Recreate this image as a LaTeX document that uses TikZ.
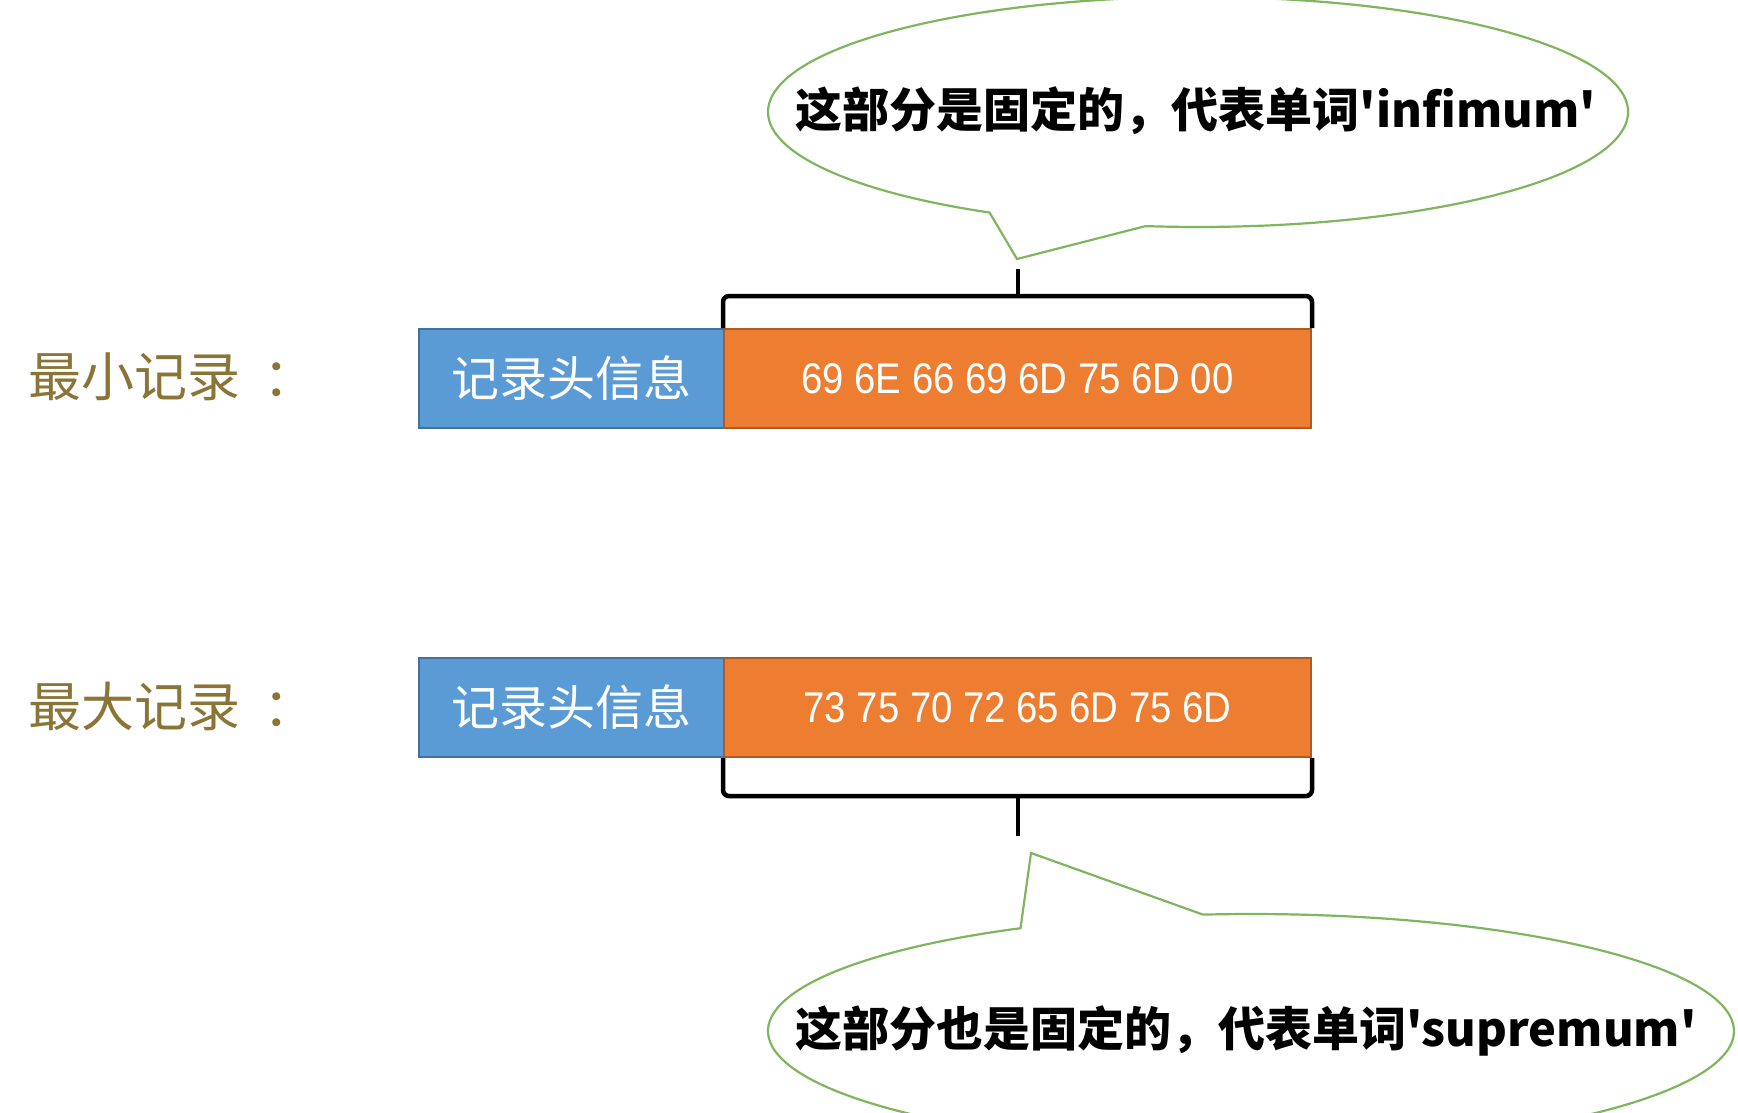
\documentclass[tikz,border=0pt]{standalone}
\usepackage{fontspec}
\newfontfamily\cjk{Noto Sans CJK SC}
\newfontfamily\hexf[FakeStretch=0.89]{Liberation Sans}
\definecolor{hdrblue}{HTML}{5B9BD5}
\definecolor{hdrblueline}{HTML}{41719C}
\definecolor{dataorange}{HTML}{ED7D31}
\definecolor{dataorangeline}{HTML}{AE5A21}
\definecolor{labelbrown}{HTML}{8A7436}
\definecolor{calloutgreen}{HTML}{7FB55E}
\tikzset{
  hdrbox/.style={draw=hdrblueline, line width=2pt, fill=hdrblue, anchor=north west,
    minimum width=305pt, minimum height=99pt, inner sep=0pt, text=white,
    font=\cjk\fontsize{48}{52}\selectfont},
  databox/.style={draw=dataorangeline, line width=2pt, fill=dataorange, anchor=north west,
    minimum width=587pt, minimum height=99pt, inner sep=0pt, text=white,
    font=\hexf\fontsize{43}{46}\selectfont},
  rowlabel/.style={anchor=west, inner sep=0pt, text=labelbrown,
    font=\cjk\fontsize{53}{56}\selectfont},
  bracketline/.style={line width=4.5pt, rounded corners=6pt, line cap=butt},
  bubble/.style={draw=calloutgreen, line width=2.2pt, fill=white, line join=miter},
  bubbletext/.style={inner sep=0pt, text=black, font=\cjk\bfseries\fontsize{47}{50}\selectfont}
}
\begin{document}
\begin{tikzpicture}[x=1pt,y=-1pt]
\useasboundingbox (0,0) rectangle (1738,1112);
% callout 1
\draw[bubble] (1145.6,226.1) arc[start angle=97, end angle=-241, x radius=430, y radius=115]
  -- (1017,259) -- cycle;
\node[bubbletext] (t1) at (1196,111) {这部分是固定的，代表单词'infimum'};
% callout 2
\draw[bubble] (1203,914.6) arc[start angle=-95.7, end angle=241.5, x radius=483, y radius=117]
  -- (1031,853) -- cycle;
\node[bubbletext] (t2) at (1246,1031) {这部分也是固定的，代表单词'supremum'};
% labels
\node[rowlabel] (l1) at (28,377) {最小记录\hspace{0.45em}：};
\node[rowlabel] (l2) at (28,706) {最大记录\hspace{0.45em}：};
% row 1
\node[hdrbox] (h1) at (418,328) {记录头信息};
\node[databox] (d1) at (723,328) {69 6E 66 69 6D 75 6D 00};
% row 2
\node[hdrbox] (h2) at (418,657) {记录头信息};
\node[databox] (d2) at (723,657) {73 75 70 72 65 6D 75 6D};
% brackets
\coordinate (b1l) at ([yshift=32pt]d1.north west);
\coordinate (b1r) at ([yshift=32pt]d1.north east);
\draw[bracketline] (d1.north west) -- (b1l) -- (b1r) -- (d1.north east);
\coordinate (b1m) at ([yshift=32pt]d1.north);
\coordinate (b1tip) at ([yshift=59pt]d1.north);
\draw[line width=4pt] (b1m) -- (b1tip);
\coordinate (b2l) at ([yshift=-38pt]d2.south west);
\coordinate (b2r) at ([yshift=-38pt]d2.south east);
\draw[bracketline] (d2.south west) -- (b2l) -- (b2r) -- (d2.south east);
\coordinate (b2m) at ([yshift=-38pt]d2.south);
\coordinate (b2tip) at ([yshift=-78pt]d2.south);
\draw[line width=4pt] (b2m) -- (b2tip);
\end{tikzpicture}
\end{document}
